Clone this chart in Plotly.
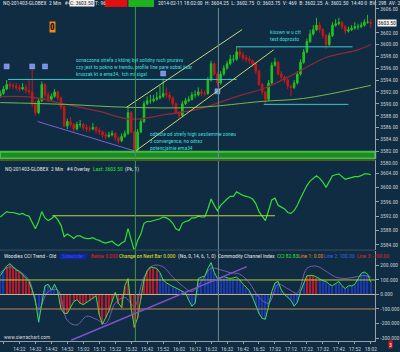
import plotly.graph_objects as go
import pandas as pd

# ---------------- data ----------------
start = pd.Timestamp("2014-02-11 14:10:00")
n_bars = 117
times = [start + pd.Timedelta(minutes=2 * i) for i in range(n_bars)]

opens = [3591.25, 3591.75, 3592.50, 3593.25, 3593.00, 3593.00, 3592.75, 3592.50, 3592.75, 3592.25,
         3592.00, 3590.00, 3588.50, 3590.50, 3593.25, 3591.50, 3590.75, 3591.25, 3592.00, 3591.00,
         3589.50, 3586.25, 3587.00, 3586.50, 3585.75, 3586.50, 3586.50, 3586.00, 3585.75, 3585.75,
         3586.00, 3585.50, 3585.25, 3584.75, 3584.50, 3584.75, 3585.00, 3584.25, 3583.75, 3584.50,
         3585.00, 3588.50, 3585.25, 3582.25, 3585.25, 3587.00, 3590.00, 3590.50, 3590.50, 3590.75,
         3591.00, 3591.25, 3591.75, 3591.50, 3591.00, 3590.00, 3588.50, 3588.00, 3590.00, 3590.50,
         3590.75, 3591.50, 3591.50, 3592.00, 3591.75, 3591.75, 3594.00, 3596.75, 3595.00, 3593.50,
         3595.00, 3596.00, 3596.75, 3597.50, 3597.50, 3598.75, 3598.25, 3597.75, 3597.50, 3597.25,
         3596.75, 3595.50, 3593.25, 3592.00, 3590.75, 3593.50, 3596.50, 3597.00, 3595.00, 3594.50,
         3594.00, 3593.00, 3592.75, 3593.50, 3595.00, 3597.00, 3598.75, 3600.50, 3601.75, 3602.50,
         3603.25, 3602.50, 3601.50, 3600.00, 3601.50, 3603.25, 3603.50, 3603.75, 3603.00, 3602.25,
         3602.50, 3602.75, 3603.00, 3603.00, 3603.25, 3603.75, 3603.75]
highs = [3592.25, 3593.00, 3594.00, 3593.75, 3593.50, 3593.50, 3593.25, 3593.50, 3593.25, 3594.00,
         3595.75, 3590.50, 3591.00, 3593.75, 3593.50, 3592.00, 3591.75, 3592.50, 3592.25, 3591.25,
         3589.75, 3587.50, 3587.75, 3586.75, 3587.00, 3587.25, 3586.75, 3586.50, 3586.25, 3586.75,
         3586.25, 3586.00, 3585.50, 3585.25, 3585.25, 3585.50, 3585.25, 3584.50, 3585.00, 3585.50,
         3589.50, 3588.75, 3585.50, 3585.75, 3587.50, 3590.50, 3591.25, 3591.50, 3591.50, 3592.00,
         3593.00, 3594.25, 3592.75, 3592.00, 3591.25, 3590.25, 3588.75, 3590.50, 3591.00, 3591.25,
         3592.00, 3592.25, 3592.75, 3592.50, 3592.25, 3594.50, 3597.25, 3597.00, 3595.25, 3595.50,
         3596.50, 3597.25, 3598.25, 3598.25, 3599.75, 3599.50, 3598.75, 3598.25, 3598.00, 3597.50,
         3597.00, 3595.75, 3593.50, 3592.25, 3594.00, 3597.00, 3597.75, 3597.25, 3595.50, 3594.75,
         3594.25, 3593.25, 3594.00, 3595.50, 3597.50, 3599.25, 3601.00, 3602.50, 3603.25, 3604.50,
         3603.75, 3602.75, 3601.75, 3602.00, 3603.75, 3604.25, 3604.50, 3604.00, 3603.25, 3603.00,
         3603.25, 3603.75, 3603.50, 3603.75, 3604.25, 3605.00, 3604.25]
lows = [3591.00, 3591.50, 3592.25, 3592.50, 3592.50, 3592.25, 3592.00, 3592.25, 3591.75, 3591.50,
        3589.50, 3588.00, 3588.25, 3590.25, 3591.00, 3590.25, 3590.50, 3591.00, 3590.50, 3589.00,
        3586.00, 3585.75, 3586.00, 3585.25, 3585.50, 3586.00, 3585.50, 3585.25, 3585.25, 3585.50,
        3585.00, 3584.75, 3584.25, 3584.00, 3584.25, 3584.50, 3583.75, 3583.25, 3583.50, 3584.25,
        3584.75, 3585.00, 3582.00, 3582.00, 3585.00, 3586.75, 3589.75, 3590.00, 3590.25, 3590.50,
        3590.75, 3591.00, 3591.00, 3590.50, 3589.50, 3588.25, 3587.50, 3587.75, 3589.75, 3590.25,
        3590.50, 3591.00, 3591.25, 3591.25, 3591.25, 3591.50, 3593.75, 3594.75, 3593.00, 3593.25,
        3594.75, 3595.75, 3596.50, 3597.00, 3597.25, 3597.75, 3597.25, 3597.00, 3596.75, 3596.25,
        3595.00, 3593.00, 3591.50, 3590.00, 3590.50, 3593.25, 3596.25, 3594.75, 3594.00, 3593.50,
        3592.50, 3591.25, 3592.50, 3593.25, 3594.75, 3596.75, 3598.50, 3600.25, 3601.50, 3602.25,
        3602.00, 3601.00, 3599.25, 3599.75, 3601.25, 3603.00, 3603.25, 3602.50, 3601.75, 3602.00,
        3602.25, 3602.50, 3602.50, 3602.75, 3603.00, 3603.50, 3602.75]
closes = [3591.75, 3592.50, 3593.25, 3593.00, 3593.00, 3592.75, 3592.50, 3592.75, 3592.25, 3592.00,
          3590.00, 3588.50, 3590.50, 3593.25, 3591.50, 3590.75, 3591.25, 3592.00, 3591.00, 3589.50,
          3586.25, 3587.00, 3586.50, 3585.75, 3586.50, 3586.50, 3586.00, 3585.75, 3585.75, 3586.00,
          3585.50, 3585.25, 3584.75, 3584.50, 3584.75, 3585.00, 3584.25, 3583.75, 3584.50, 3585.00,
          3588.50, 3585.25, 3582.25, 3585.25, 3587.00, 3590.00, 3590.50, 3590.50, 3590.75, 3591.00,
          3591.25, 3591.75, 3591.50, 3591.00, 3590.00, 3588.50, 3588.00, 3590.00, 3590.50, 3590.75,
          3591.50, 3591.50, 3592.00, 3591.75, 3591.75, 3594.00, 3596.75, 3595.00, 3593.50, 3595.00,
          3596.00, 3596.75, 3597.50, 3597.50, 3598.75, 3598.25, 3597.75, 3597.50, 3597.25, 3596.75,
          3595.50, 3593.25, 3592.00, 3590.75, 3593.50, 3596.50, 3597.00, 3595.00, 3594.50, 3594.00,
          3593.00, 3592.75, 3593.50, 3595.00, 3597.00, 3598.75, 3600.50, 3601.75, 3602.50, 3603.25,
          3602.50, 3601.50, 3600.00, 3601.50, 3603.25, 3603.50, 3603.75, 3603.00, 3602.25, 3602.50,
          3602.75, 3603.00, 3603.00, 3603.25, 3603.75, 3603.75, 3603.50]

# moving averages (sampled at bar indices)
ema_red_idx = [0, 10, 18, 31, 41, 52, 62, 74, 83, 93, 102, 112, 116]
ema_red_val = [3591.2, 3591.1, 3590.2, 3588.7, 3587.4, 3588.2, 3589.1, 3591.2, 3592.7, 3595.3, 3597.8, 3599.1, 3600.0]
ma_green_idx = [0, 20, 40, 62, 82, 95, 116]
ma_green_val = [3590.2, 3589.9, 3589.4, 3589.4, 3590.4, 3590.9, 3593.1]

# square markers (bar index, price)
sq_idx = [2, 10, 14, 51, 68]
sq_val = [3596.3, 3596.3, 3596.3, 3595.1, 3592.1]

# CCI (14) per bar
cci = [130, 160, 195, 212, 190, 170, 157, 135, 110, 89,
       30, -40, -190, -60, 60, 70, 30, 70, 20, -100,
       -130, -130, -90, -50, -35, -60, -70, -55, -45, -25,
       -10, -140, -205, -160, -115, -50, 15, -60, -90, 60,
       110, -100, -225, -160, -30, 100, 165, 190, 185, 180,
       150, 100, 80, 65, 55, 45, 35, 25, 10, -40,
       -80, -60, 110, 120, 125, 180, 220, 150, 110, 115,
       125, 115, 110, 115, 120, 100, 70, 50, 25, -20,
       -80, -130, -165, -170, -80, 20, 80, 90, 30, 0,
       -20, -40, -80, -55, 20, 80, 130, 130, 130, 120,
       105, 95, 90, 70, 60, 75, 90, 60, 40, 60,
       60, 70, 110, 145, 155, 140, 82.83]
hist_trend = ("bbrrrrrrrrrbbbbbbbbr" "rrrrrrrrrrrrrrrrrrrr" "rrrrrrrrrrbbbbbbbbbb"
              "bbbbbbbbbbbbbbbbbbbb" "bbbbbbbbbbbbbbbbrrrr" "bbbbbbbbbbbbbbbbb")
tcci_idx = [0, 3, 6, 9, 12, 15, 18, 21, 24, 27, 30, 33, 36, 39, 42, 45, 48, 51, 54, 57,
            60, 63, 66, 69, 72, 75, 78, 81, 84, 87, 90, 93, 96, 99, 102, 105, 108, 111, 114, 116]
tcci_val = [150, 190, 160, 100, -100, 20, 30, -180, -210, -150, -170, -200, -60, -20, -80, 120, 200, 190, 120, 60,
            20, 90, 180, 170, 150, 140, 80, -20, -60, 70, 40, 10, 180, 195, 160, 120, 110, 120, 130, 120]

# x ticks
tick_times = [pd.Timestamp("2014-02-11 14:12:00") + pd.Timedelta(minutes=10 * k) for k in range(24)]
price_ticks = [3582, 3584, 3586, 3588, 3590, 3592, 3594, 3596, 3598, 3600, 3602, 3606]
ov_ticks = list(range(3584, 3605, 4))
cci_ticks = [200, 100, 0, -100, -200, -300]

# ---------------- figure ----------------
BG = "#0f2c43"
FONT = "Liberation Sans Narrow, Roboto Condensed, Liberation Sans, sans-serif"
W, H_PLOT = 400, 343


def t_of(i):
    return start + pd.Timedelta(minutes=2 * i)


def px(x):
    return x / W


def py(y):
    return 1 - y / H_PLOT


fig = go.Figure()

fig.add_trace(go.Candlestick(
    x=times, open=opens, high=highs, low=lows, close=closes, xaxis="x", yaxis="y",
    increasing=dict(line=dict(color="#22c322", width=1), fillcolor="#22c322"),
    decreasing=dict(line=dict(color="#c81818", width=1), fillcolor="#c81818"),
    whiskerwidth=0, showlegend=False, hoverinfo="skip"))

fig.add_trace(go.Scatter(x=[t_of(i) for i in ema_red_idx], y=ema_red_val, mode="lines",
                         line=dict(color="#8a2a3a", width=1.3, shape="spline"), yaxis="y", showlegend=False))
fig.add_trace(go.Scatter(x=[t_of(i) for i in ma_green_idx], y=ma_green_val, mode="lines",
                         line=dict(color="#7ab84a", width=1, shape="spline"), yaxis="y", showlegend=False))
fig.add_trace(go.Scatter(x=[t_of(i) for i in sq_idx], y=sq_val, mode="markers",
                         marker=dict(symbol="square", size=5, color="#7a90e8", line=dict(color="#a0b0ff", width=0.5)),
                         yaxis="y", showlegend=False))

# overlay panel
fig.add_trace(go.Scatter(x=times, y=closes, mode="lines", line=dict(color="#33e033", width=1.2),
                         yaxis="y2", showlegend=False))

# CCI panel
hist_colors = ["#b8182a" if c == "r" else "#1a38b0" for c in hist_trend]
fig.add_trace(go.Bar(x=times, y=cci, marker=dict(color=hist_colors, line=dict(width=0)), width=45000,
                     yaxis="y3", showlegend=False))
fig.add_trace(go.Scatter(x=[t_of(i) for i in tcci_idx], y=tcci_val, mode="lines",
                         line=dict(color="#7a5ab8", width=1, shape="spline"), yaxis="y3", showlegend=False))
fig.add_trace(go.Scatter(x=times, y=cci, mode="lines", line=dict(color="#3ee03e", width=1),
                         yaxis="y3", showlegend=False))

shapes = []
# green zone
shapes.append(dict(type="rect", xref="paper", yref="y", x0=0, x1=0.95, y0=3580.75, y1=3581.9,
                   fillcolor="#1f8a2a", line=dict(color="#3cc43c", width=2), layer="below"))
# horizontal cyan lines (price panel)
hlines = [(2.4, 74, 3594.1), (74, 110.3, 3599.6), (82.5, 109, 3589.9)]
for a, b, v in hlines:
    shapes.append(dict(type="line", xref="x", yref="y", x0=t_of(a), x1=t_of(b), y0=v, y1=v,
                       line=dict(color="#3ec8c8", width=1)))
# trend lines in price panel
tl = [((11.7, 3587.0), (42.3, 3582.0), "#8060d0"),
      ((42.3, 3582.0), (85.6, 3599.1), "#c8d870"),
      ((39.5, 3589.4), (75.7, 3602.5), "#c8d870")]
for (a, va), (b, vb), col in tl:
    shapes.append(dict(type="line", xref="x", yref="y", x0=t_of(a), x1=t_of(b), y0=va, y1=vb,
                       line=dict(color=col, width=1)))
# overlay horizontal line
shapes.append(dict(type="line", xref="x", yref="y2", x0=t_of(16.3), x1=t_of(86), y0=3592.1, y1=3592.1,
                   line=dict(color="#c8d040", width=1)))
# CCI reference lines
for v, col in [(100, "#b8c838"), (0, "#c8b48a"), (-100, "#c08a50")]:
    shapes.append(dict(type="line", xref="paper", yref="y3", x0=0, x1=0.95, y0=v, y1=v,
                       line=dict(color=col, width=1)))
# CCI trend line
shapes.append(dict(type="line", xref="x", yref="y3", x0=t_of(22.2), x1=t_of(77.2), y0=-315, y1=192,
                   line=dict(color="#8050d0", width=1.5)))
# vertical lines
shapes.append(dict(type="line", xref="x", yref="paper", x0=t_of(42.3), x1=t_of(42.3), y0=0, y1=1,
                   line=dict(color="#3a9a4a", width=1)))
shapes.append(dict(type="line", xref="x", yref="paper", x0=t_of(68.3), x1=t_of(68.3), y0=0, y1=py(8),
                   line=dict(color="#6a8c8c", width=1)))
# panel separators
shapes.append(dict(type="rect", xref="paper", yref="paper", x0=0, x1=0.95, y0=py(162), y1=py(160),
                   fillcolor="#4a5a2a", line=dict(width=0)))
shapes.append(dict(type="line", xref="paper", yref="paper", x0=0, x1=0.95, y0=py(251.5), y1=py(251.5),
                   line=dict(color="#3a5060", width=1)))
# header colour boxes
shapes.append(dict(type="rect", xref="paper", yref="paper", x0=px(106), x1=px(129), y0=py(7), y1=py(0),
                   fillcolor="#e01010", line=dict(width=0)))
shapes.append(dict(type="rect", xref="paper", yref="paper", x0=px(130), x1=px(156), y0=py(7), y1=py(0),
                   fillcolor="#20b020", line=dict(width=0)))
# CCI header blue box
shapes.append(dict(type="rect", xref="paper", yref="paper", x0=px(60), x1=px(88), y0=py(261), y1=py(255),
                   fillcolor="#10259a", line=dict(width=0)))

ann = []


def txt(x, y, s, col="#e0e0e0", size=5.5, bg=None, anchor="left"):
    d = dict(xref="paper", yref="paper", x=px(x), y=py(y), text=s, showarrow=False,
             xanchor=anchor, yanchor="middle", font=dict(family=FONT, size=size, color=col))
    if bg:
        d["bgcolor"] = bg
        d["borderpad"] = 0
    ann.append(d)


CY = "#40d8d8"
# header
txt(1, 3.5, "NQ-201403-GLOBEX  2 Min   #4")
txt(70, 3.5, "C: 3603.50", col="#202020", bg="#f0f0f0")
txt(94, 3.5, "T: 96")
txt(158, 3.5, "2014-02-11 18:02:00  H: 3604.25  L: 3602.75  O: 3603.75  V: 469  B: 3602.25  A: 3602.50  14:40 0  BV: 298  AV: 2")
# orange box
txt(53.5, 27.5, "<b>0</b>", col="#000000", size=9, bg="#f08a10", anchor="center")
# notes
txt(75, 60, "oznaczona strefa z której był solidny ruch pruravu", col=CY)
txt(75, 67, "czy jest to pokno w trendu, profile line pare sobal jisar", col=CY)
txt(75, 74, "kruszak kt a ema34,  tch mi sigal", col=CY)
txt(150, 135, "odbicie od strefy high sesilemme zoneu", col=CY)
txt(150, 142, "z convergence, no odraz", col=CY)
txt(150, 149, "potencjalnie ema34", col=CY)
txt(271, 32, "kisswn w u ctt", col=CY)
txt(271, 39, "test doprosto", col=CY)
# overlay header
txt(3, 170, "NQ-201403-GLOBEX  2 Min   #4 Overlay")
txt(92, 170, "Last: 3603.50", col="#30e030")
txt(125, 170, "(Pk, 1)")
# CCI header
txt(2, 258, "Woodies CCI Trend - Old")
txt(61, 258, "Sidewinder", col="#3050e0", size=5)
txt(90, 258, "Below 0.000", col="#e02020")
txt(118, 258, "Change on Next Bar 0.000", col="#e0e020")
txt(178, 258, "(No, 0, 14, 6, 1, 0)")
txt(219, 258, "Commodity Channel Index")
txt(278, 258, "CCI 82.83", col="#30e030")
txt(300, 258, "Line 1: 0.00", col="#e08a30")
txt(326, 258, "Line 2: 100.00", col="#4060e0")
txt(359, 258, "Line 3: -100.00", col="#e02030")
txt(2, 339, "www.sierrachart.com", col="#d0d0d0")
# price tag & extra label
txt(382, 23.5, "3603.50", col="#101010", bg="#f4f4f4")
txt(383, 163.5, "3580.00", col="#c8c8c8")
txt(393, 347, "3", col="#ffffff", bg="#e01010", size=6)

axis_common = dict(showgrid=False, zeroline=False, side="right", anchor="x", showline=True,
                   linecolor="#9aa0a8", linewidth=1, ticks="outside", ticklen=3, tickcolor="#9aa0a8",
                   tickfont=dict(family=FONT, size=5.5, color="#c8ccd0"))

fig.update_layout(
    width=400, height=352, margin=dict(l=0, r=0, t=0, b=9),
    paper_bgcolor=BG, plot_bgcolor=BG, showlegend=False, bargap=0,
    xaxis=dict(domain=[0, 0.95], anchor="y3", type="date",
               range=[pd.Timestamp("2014-02-11 14:09:50"), pd.Timestamp("2014-02-11 18:04:48")],
               tickvals=tick_times, tickformat="%H:%M", showgrid=False, zeroline=False,
               showline=True, linecolor="#9aa0a8", ticks="outside", ticklen=2, tickcolor="#9aa0a8",
               tickfont=dict(family=FONT, size=5.5, color="#c8ccd0"),
               rangeslider=dict(visible=False)),
    yaxis=dict(domain=[py(160), 1], range=[3580.67, 3607.5], tickvals=price_ticks,
               ticktext=[f"{v:.2f}" for v in price_ticks], **axis_common),
    yaxis2=dict(domain=[py(251), py(161)], range=[3582.7, 3607.6], tickvals=ov_ticks,
                ticktext=[f"{v:.2f}" for v in ov_ticks], **axis_common),
    yaxis3=dict(domain=[0, py(252)], range=[-320.5, 302.7], tickvals=cci_ticks,
                ticktext=[f"{v:.3f}" for v in cci_ticks], **axis_common),
    shapes=shapes, annotations=ann,
)

fig.write_html("out.html")
